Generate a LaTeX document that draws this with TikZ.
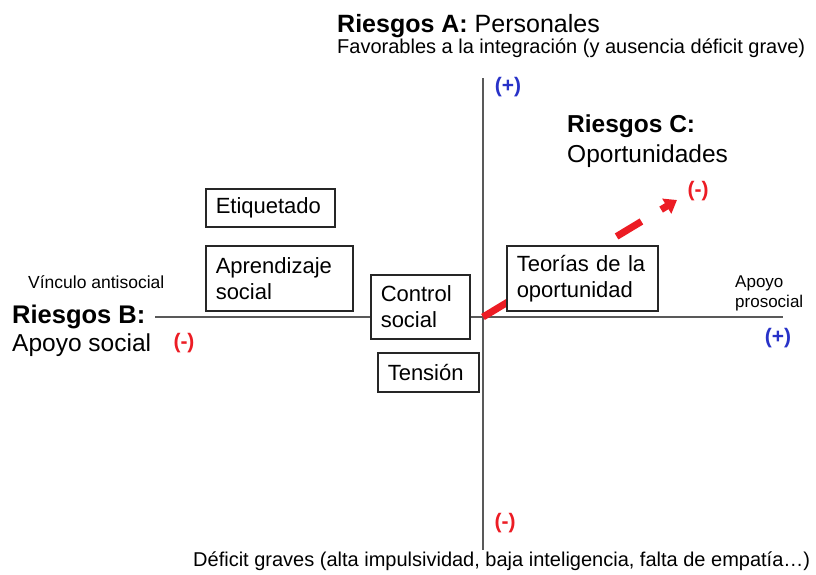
\documentclass[tikz,border=0pt]{standalone}
\usepackage{fontspec}
\setmainfont{Liberation Sans}
\usetikzlibrary{arrows.meta}
\definecolor{rojo}{RGB}{236,28,36}
\definecolor{azul}{RGB}{40,50,200}
\begin{document}
\begin{tikzpicture}[x=1pt,y=-1pt,
	caja/.style={draw=black!85,line width=1.5pt,fill=white,anchor=north west,align=left,inner xsep=10pt,inner ysep=0pt,font=\fontsize{22}{26}\selectfont},
	eje/.style={draw=black!65,line width=2.4pt},
	titulo/.style={anchor=base west,inner sep=0pt,font=\fontsize{24.5}{29}\selectfont},
	nota/.style={anchor=base west,inner sep=0pt,font=\fontsize{17}{20}\selectfont},
	signo/.style={inner sep=0pt,font=\fontsize{21}{24}\selectfont\bfseries}]
\useasboundingbox (0,0) rectangle (816,574);
\coordinate (o) at (483,317);
\coordinate (izq) at (155,317);
\coordinate (der) at (783,317);
\coordinate (arr) at (483,78);
\coordinate (aba) at (483,550);
\coordinate (fin) at (677,200);
\draw[eje] (izq)--(der);
\draw[eje] (arr)--(aba);
\draw[rojo,line width=7pt,dash pattern=on 29pt off 23pt,-{Triangle[length=12pt,width=17pt]}] (o)--(fin);
\foreach \n/\x/\y/\w/\h/\t in {eti/205/188/129/38/Etiquetado,apr/205/245/147/65/{Aprendizaje\\social},con/370/274/99/64/{Control\\social},ten/377/352/101/39/Tensión,teo/506/245/151/65/{Teorías de la\\oportunidad}}{
	\pgfmathsetmacro{\tw}{\w-20}
	\node[caja,name=\n,text width=\tw pt,minimum height=\h pt] at (\x,\y){\t};
};
\node[titulo,name=ra,font=\fontsize{25}{30}\selectfont] at (337,32){\textbf{Riesgos A:} Personales};
\node[nota,name=fav,font=\fontsize{20}{24}\selectfont] at (337,53){Favorables a la integración (y ausencia déficit grave)};
\node[titulo,name=rc] at (567,132){\textbf{Riesgos C:}};
\node[titulo,name=opo] at (567,162){Oportunidades};
\node[nota,name=vin,font=\fontsize{17.5}{20}\selectfont] at (28,288){Vínculo antisocial};
\node[titulo,name=rb,font=\fontsize{25.5}{30}\selectfont] at (12,323){\textbf{Riesgos B:}};
\node[titulo,name=aps] at (12,351){Apoyo social};
\node[nota,name=apo] at (735,287){Apoyo};
\node[nota,name=pro] at (735,307){prosocial};
\node[nota,name=def,font=\fontsize{20}{24}\selectfont] at (193,566){Déficit graves (alta impulsividad, baja inteligencia, falta de empatía…)};
\foreach \n/\x/\y/\c/\s in {ma/508/87/azul/+,mb/778/338/azul/+,me/184/343/rojo/-,mf/505/523/rojo/-,mg/698/191/rojo/-}{
	\node[signo,text=\c,name=\n] at (\x,\y){(\s)};
};
\end{tikzpicture}
\end{document}
